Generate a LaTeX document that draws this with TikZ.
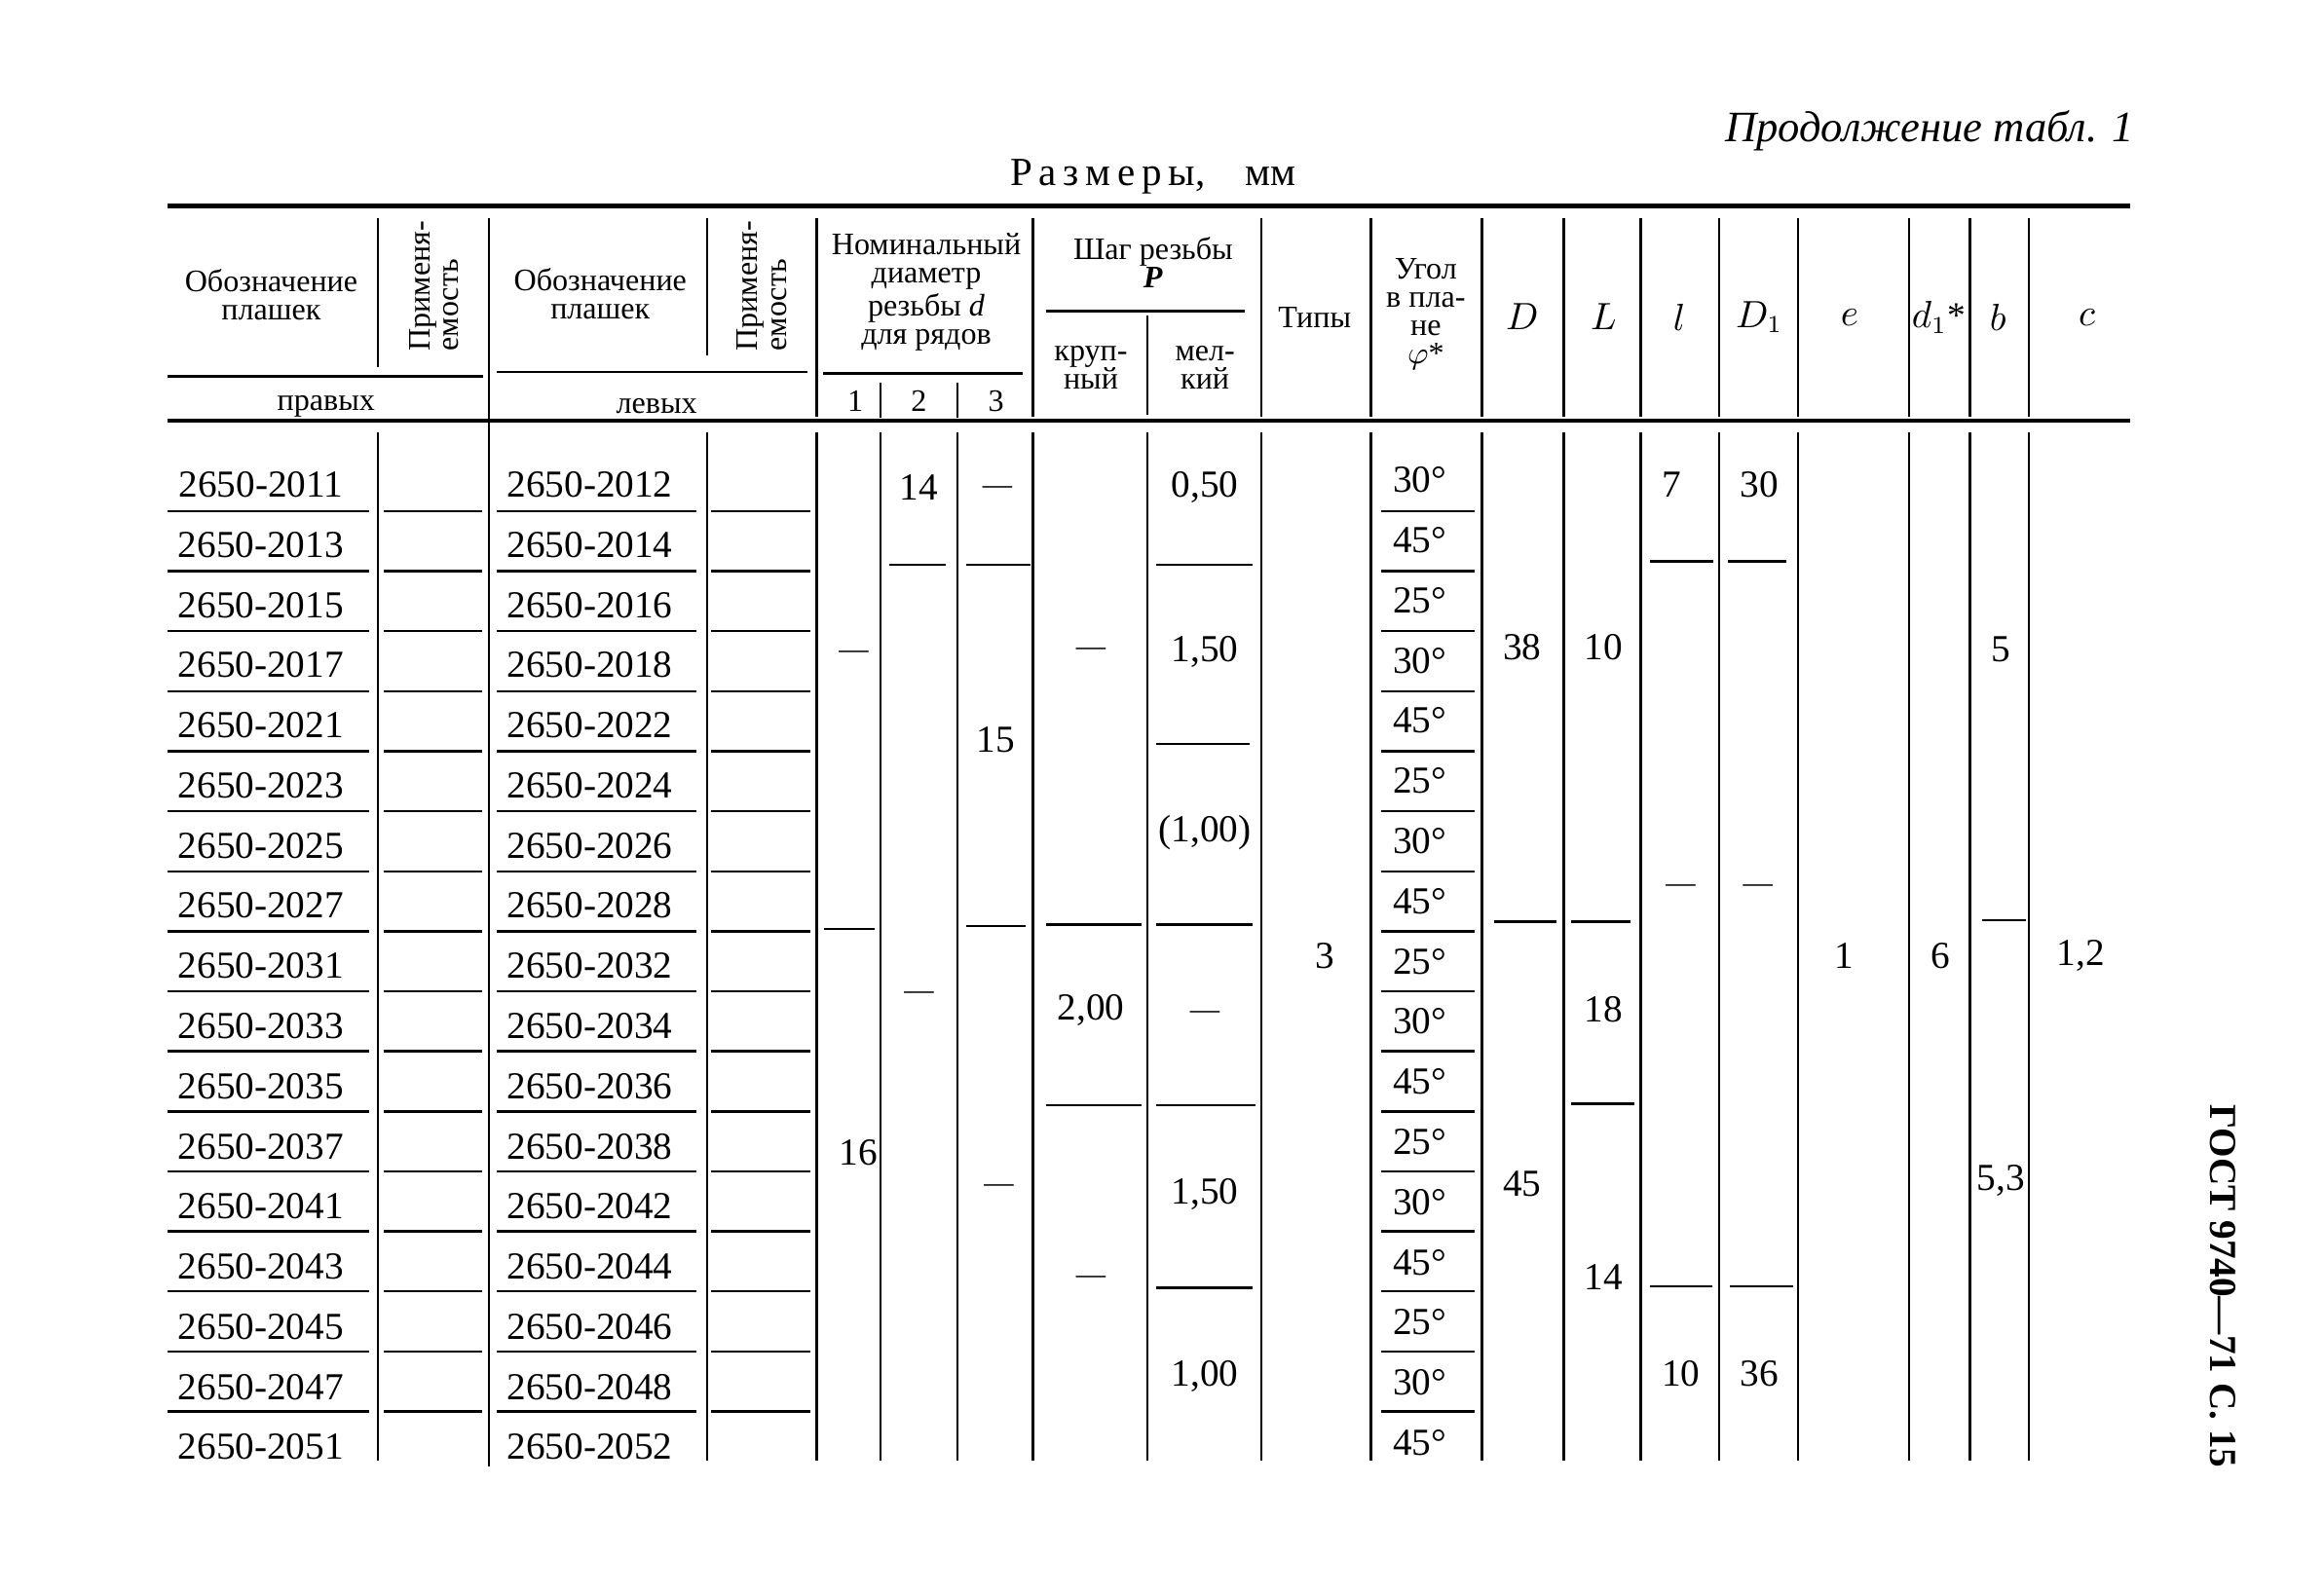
\documentclass[tikz,border=0pt]{standalone}
\usepackage{fontspec}
\setmainfont{Liberation Serif}
\newcommand{\dsh}{{\fontsize{8.5}{9}\selectfont —}}
\begin{document}
\begin{tikzpicture}[x=0.015cm, y=-0.015cm,
    cell/.style={inner sep=0pt, font=\fontsize{11}{13}\selectfont},
    head/.style={inner sep=0pt, align=center, font=\fontsize{9}{8.2}\selectfont},
    sym/.style={inner sep=0pt, font=\fontsize{10.5}{12}\selectfont},
    rul/.style={line width=0.7pt},
  ]
  \useasboundingbox (0,0) rectangle (1568,1076);

  \node[anchor=east, inner sep=0pt, font=\fontsize{12.5}{14}\selectfont\itshape] (cont) at (1440,88) {Продолжение табл. 1};
  \node[inner sep=0pt, font=\fontsize{11.5}{13}\selectfont] (dims) at (778,119) {Р\,а\,з\,м\,е\,р\,ы,\quad мм};

  % rules of the head
  \draw[line width=1.4pt] (113,139) -- (1437,139);
  \draw[line width=1pt] (113,284) -- (1437,284);
  \draw[rul] (113,254) -- (326,254) (335,251) -- (545,251) (555,252) -- (690,252) (706,210) -- (840,210);
  \foreach \x in {551,697,851,925,1000,1055,1107,1160,1213,1288,1329,1369}
    \draw[rul] (\x,147) -- (\x,281);
  \draw[rul] (255,147) -- (255,248) (477,147) -- (477,240) (330,147) -- (330,990);
  \draw[rul] (594,258) -- (594,282) (646,258) -- (646,282) (774,213) -- (774,280);
  \foreach \x in {255,477,551,594,646,697,774,851,925,1000,1055,1107,1160,1213,1288,1329,1369}
    \draw[rul] (\x,292) -- (\x,986);

  % head
  \node[head] (hdesr) at (183,199) {Обозначение\\плашек};
  \node[head, rotate=90, align=left] (happr) at (293,193) {Применя-\\емость};
  \node[head] (hdesl) at (405,198) {Обозначение\\плашек};
  \node[head, rotate=90, align=left] (happl) at (514,193) {Применя-\\емость};
  \node[head] (hnom) at (625,197) {Номинальный\\диаметр\\резьбы \textit{d}\\для рядов};
  \node[head] (hstep) at (778,177) {Шаг резьбы\\\textit{\textbf{P}}};
  \node[head] (hcoarse) at (736,248) {круп-\\ный};
  \node[head] (hfine) at (813,248) {мел-\\кий};
  \node[head] (htype) at (887,214) {Типы};
  \node[head] (hang) at (962,212) {Угол\\в пла-\\не\\$\varphi$*};
  \node[sym] (hD) at (1027,214) {$D$};
  \node[sym] (hL) at (1082,214) {$L$};
  \node[sym] (hl) at (1133,214) {$l$};
  \node[sym] (hDa) at (1187,214) {$D_1$};
  \node[sym] (he) at (1248,214) {$e$};
  \node[sym] (hda) at (1308,214) {$d_1$*};
  \node[sym] (hb) at (1348,214) {$b$};
  \node[sym] (hc) at (1408,214) {$c$};
  \node[head] (hright) at (220,274) {правых};
  \node[head] (hleft) at (443,274) {левых};
  \node[head] (hrow1) at (577,271) {1};
  \node[head] (hrow2) at (620,271) {2};
  \node[head] (hrow3) at (672,271) {3};

  % rows
  \foreach \i/\r/\l/\a in {1/2011/2012/30, 2/2013/2014/45, 3/2015/2016/25, 4/2017/2018/30,
      5/2021/2022/45, 6/2023/2024/25, 7/2025/2026/30, 8/2027/2028/45, 9/2031/2032/25,
      10/2033/2034/30, 11/2035/2036/45, 12/2037/2038/25, 13/2041/2042/30, 14/2043/2044/45,
      15/2045/2046/25, 16/2047/2048/30, 17/2051/2052/45} {
    \node[cell] (r\i) at (176,{327+40.6*(\i-1)}) {2650-\r};
    \node[cell] (l\i) at (398,{327+40.6*(\i-1)}) {2650-\l};
    \node[cell] (a\i) at (958,{324+40.6*(\i-1)}) {\a°};
  }
  \foreach \k in {1,...,16} {
    \pgfmathsetmacro\yy{345+40.5*(\k-1)}
    \draw[rul] (113,\yy) -- (249,\yy) (259,\yy) -- (325,\yy) (335,\yy) -- (470,\yy)
      (480,\yy) -- (547,\yy) (932,\yy) -- (995,\yy);
  }

  % merged cells
  \node[cell] (n1a) at (576,442) {\dsh};
  \node[cell] (n1b) at (579,778) {16};
  \node[cell] (n2a) at (620,329) {14};
  \node[cell] (n2b) at (620,672) {\dsh};
  \node[cell] (n3a) at (673,331) {\dsh};
  \node[cell] (n3b) at (672,499) {15};
  \node[cell] (n3c) at (674,802) {\dsh};
  \node[cell] (pca) at (736,440) {\dsh};
  \node[cell] (pcb) at (736,682) {2,00};
  \node[cell] (pcc) at (736,864) {\dsh};
  \node[cell] (pfa) at (813,329) {0,50};
  \node[cell] (pfb) at (813,440) {1,50};
  \node[cell] (pfc) at (813,562) {(1,00)};
  \node[cell] (pfd) at (813,685) {\dsh};
  \node[cell] (pfe) at (813,806) {1,50};
  \node[cell] (pff) at (813,929) {1,00};
  \node[cell] (typ) at (894,645) {3};
  \node[cell] (Da) at (1027,437) {38};
  \node[cell] (Db) at (1027,799) {45};
  \node[cell] (La) at (1082,437) {10};
  \node[cell] (Lb) at (1082,681) {18};
  \node[cell] (Lc) at (1082,862) {14};
  \node[cell] (la) at (1128,327) {7};
  \node[cell] (lb) at (1134,600) {\dsh};
  \node[cell] (lc) at (1134,927) {10};
  \node[cell] (Daa) at (1187,327) {30};
  \node[cell] (Dab) at (1186,600) {\dsh};
  \node[cell] (Dac) at (1187,927) {36};
  \node[cell] (ev) at (1244,645) {1};
  \node[cell] (dav) at (1309,645) {6};
  \node[cell] (ba) at (1350,438) {5};
  \node[cell] (bb) at (1350,797) {5,3};
  \node[cell] (cv) at (1404,645) {1,2};

  \draw[rul] (556,627) -- (590,627) (600,381) -- (638,381) (652,381) -- (695,381) (652,625) -- (692,625);
  \draw[rul] (706,624) -- (770,624) (706,746) -- (770,746);
  \draw[rul] (780,381) -- (845,381) (780,502) -- (843,502) (780,624) -- (845,624)
    (780,746) -- (847,746) (780,869) -- (845,869);
  \draw[rul] (1008,622) -- (1050,622) (1060,622) -- (1100,622) (1060,745) -- (1103,745);
  \draw[rul] (1113,379) -- (1156,379) (1113,868) -- (1155,868) (1166,379) -- (1205,379) (1167,868) -- (1210,868);
  \draw[rul] (1337,621) -- (1367,621);

  \node[rotate=-90, inner sep=0pt, font=\fontsize{11}{12}\selectfont\bfseries] (gost) at (1500,868) {ГОСТ 9740—71 С. 15};
\end{tikzpicture}
\end{document}
